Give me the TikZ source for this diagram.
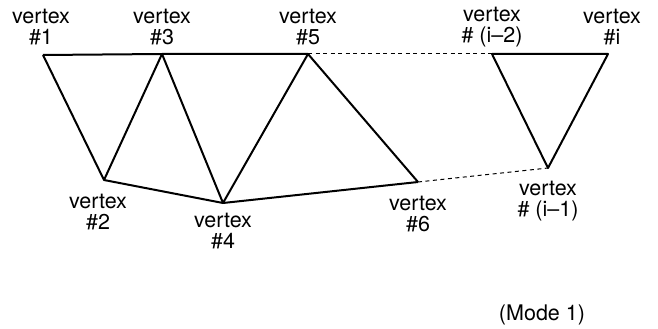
\documentclass[tikz,border=0pt]{standalone}
\usepackage{fontspec}
\setmainfont{TeX Gyre Heros}

\begin{document}
\begin{tikzpicture}[x=1pt,y=-1pt,line width=2pt,line join=round,
  lbl/.style={align=center,inner sep=0pt,font=\fontsize{21.5}{21}\selectfont},
  gap/.style={line width=1pt,dash pattern=on 4pt off 3.5pt}]
\useasboundingbox (0,0) rectangle (658,329);
% ---------- vertices ----------
\foreach \n/\x/\y in {1/43/55,2/104/180,3/162/54,4/223/203,5/308/54,6/418/182,a/492/54,b/548/168,c/608/54}{
  \coordinate (v\n) at (\x,\y);
}
% ---------- labels ----------
\node[lbl] (l1) at (41,27) {vertex\\\#1};
\node[lbl] (l3) at (162,27) {vertex\\\#3};
\node[lbl] (l5) at (308,27) {vertex\\\#5};
\node[lbl] (la) at (492,27) {vertex\\\# (i--2)};
\node[lbl] (lc) at (612,27) {vertex\\\#i};
\node[lbl] (l2) at (98,212) {vertex\\\#2};
\node[lbl] (l4) at (223,231) {vertex\\\#4};
\node[lbl] (l6) at (418,214) {vertex\\\#6};
\node[lbl] (lb) at (548,201) {vertex\\\# (i--1)};
\node[lbl] (mode) at (542,315) {(Mode 1)};
% ---------- strip of triangles ----------
\draw (v1) -- (v3) -- (v5);
\draw (v2) -- (v4) -- (v6);
\draw (v1) -- (v2) -- (v3) -- (v4) -- (v5) -- (v6);
\draw (va) -- (vb) -- (vc) -- cycle;
% omitted part
\draw[gap] (v5) -- (va);
\draw[gap] (v6) -- (vb);
\end{tikzpicture}
\end{document}
